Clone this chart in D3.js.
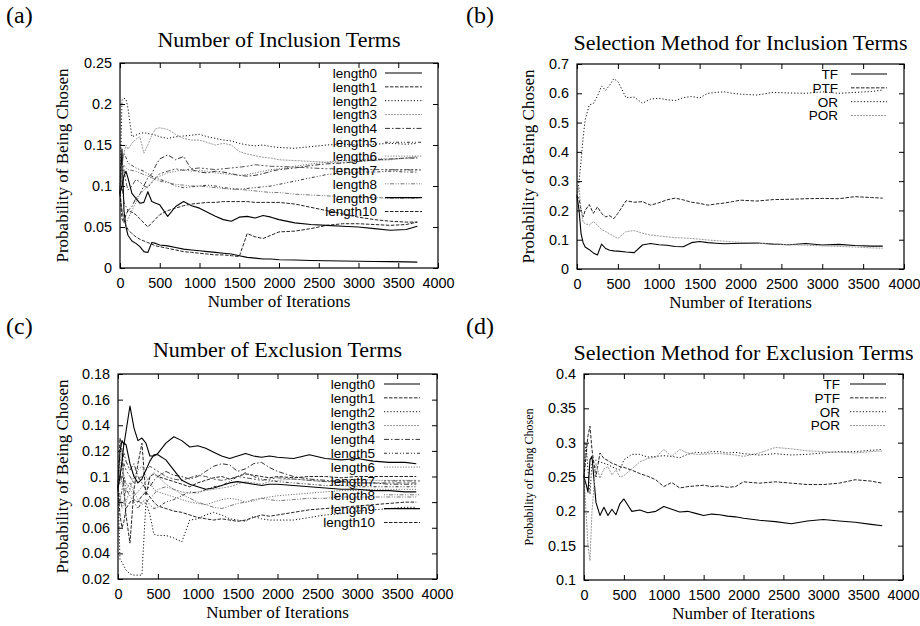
<!DOCTYPE html>
<html>
<head>
<meta charset="utf-8">
<script src="https://cdn.jsdelivr.net/npm/d3@7"></script>
<style>
  body { margin: 0; background: #fff; }
  svg { display: block; }
</style>
</head>
<body>
<svg id="chart" width="920" height="626"></svg>
<script>
// Iteration counts at which the selection probabilities were sampled
const iterations = [0,25,50,75,100,150,200,250,300,350,400,450,500,600,700,800,900,1000,1100,1200,1300,1400,1500,1600,1700,1800,1900,2000,2200,2400,2600,2800,3000,3200,3400,3600,3740];

// (a) number of inclusion terms
const inclLength0 = [0.091,0.145,0.070,0.050,0.040,0.033,0.030,0.026,0.020,0.019,0.031,0.030,0.028,0.027,0.025,0.023,0.022,0.021,0.020,0.019,0.018,0.017,0.015,0.013,0.012,0.011,0.011,0.010,0.0098,0.0092,0.0088,0.0085,0.0082,0.0080,0.0078,0.0075,0.0072];
const inclLength1 = [0.091,0.070,0.058,0.052,0.047,0.042,0.038,0.035,0.033,0.031,0.029,0.027,0.026,0.024,0.022,0.020,0.019,0.018,0.017,0.016,0.016,0.015,0.014,0.042,0.038,0.036,0.040,0.044,0.045,0.048,0.052,0.054,0.054,0.053,0.052,0.053,0.056];
const inclLength2 = [0.091,0.205,0.207,0.206,0.195,0.160,0.162,0.164,0.165,0.164,0.163,0.162,0.160,0.158,0.160,0.161,0.162,0.163,0.160,0.158,0.156,0.155,0.152,0.150,0.149,0.150,0.148,0.147,0.146,0.148,0.150,0.151,0.150,0.151,0.152,0.151,0.152];
const inclLength3 = [0.091,0.120,0.140,0.150,0.145,0.152,0.157,0.160,0.140,0.150,0.162,0.170,0.171,0.169,0.163,0.158,0.156,0.156,0.153,0.150,0.152,0.150,0.142,0.139,0.137,0.135,0.134,0.132,0.131,0.130,0.129,0.129,0.130,0.131,0.132,0.134,0.136];
const inclLength4 = [0.091,0.100,0.080,0.075,0.070,0.075,0.085,0.090,0.100,0.110,0.115,0.125,0.133,0.138,0.132,0.136,0.120,0.117,0.116,0.118,0.117,0.115,0.113,0.112,0.113,0.115,0.118,0.120,0.122,0.125,0.127,0.128,0.130,0.132,0.133,0.134,0.134];
const inclLength5 = [0.091,0.130,0.140,0.135,0.128,0.125,0.122,0.120,0.118,0.115,0.112,0.110,0.108,0.105,0.100,0.098,0.099,0.100,0.101,0.100,0.098,0.097,0.096,0.097,0.098,0.099,0.100,0.102,0.106,0.110,0.114,0.116,0.117,0.117,0.118,0.117,0.117];
const inclLength6 = [0.091,0.070,0.060,0.055,0.060,0.070,0.080,0.090,0.095,0.100,0.105,0.110,0.112,0.116,0.118,0.120,0.118,0.119,0.118,0.116,0.115,0.114,0.113,0.114,0.116,0.118,0.120,0.121,0.124,0.127,0.129,0.131,0.132,0.133,0.133,0.134,0.135];
const inclLength7 = [0.091,0.115,0.120,0.105,0.095,0.100,0.108,0.105,0.100,0.098,0.104,0.110,0.115,0.118,0.121,0.119,0.121,0.122,0.121,0.120,0.121,0.122,0.123,0.124,0.126,0.125,0.124,0.124,0.123,0.122,0.121,0.121,0.120,0.120,0.120,0.120,0.120];
const inclLength8 = [0.091,0.120,0.125,0.122,0.120,0.119,0.118,0.116,0.114,0.112,0.110,0.108,0.106,0.104,0.102,0.101,0.100,0.100,0.099,0.098,0.097,0.096,0.096,0.095,0.094,0.093,0.092,0.092,0.090,0.089,0.088,0.087,0.086,0.086,0.085,0.085,0.085];
const inclLength9 = [0.091,0.100,0.112,0.118,0.110,0.091,0.085,0.079,0.080,0.093,0.081,0.079,0.077,0.063,0.075,0.081,0.076,0.073,0.068,0.063,0.059,0.057,0.062,0.063,0.061,0.064,0.062,0.059,0.055,0.053,0.052,0.051,0.050,0.048,0.046,0.047,0.051];
const inclLength10 = [0.091,0.060,0.055,0.065,0.070,0.068,0.065,0.060,0.055,0.050,0.055,0.060,0.065,0.070,0.073,0.076,0.078,0.079,0.080,0.080,0.081,0.081,0.081,0.081,0.080,0.080,0.080,0.080,0.078,0.074,0.070,0.066,0.062,0.059,0.057,0.056,0.056];

// (b) selection method for inclusion terms
const inclTF  = [0.25,0.20,0.12,0.09,0.075,0.066,0.055,0.048,0.085,0.070,0.064,0.062,0.061,0.058,0.056,0.082,0.087,0.083,0.081,0.077,0.076,0.090,0.094,0.090,0.088,0.086,0.087,0.088,0.089,0.085,0.083,0.087,0.082,0.084,0.080,0.078,0.078];
const inclPTF = [0.25,0.24,0.20,0.178,0.20,0.22,0.19,0.212,0.19,0.178,0.182,0.172,0.19,0.233,0.228,0.23,0.218,0.226,0.236,0.242,0.236,0.228,0.224,0.218,0.222,0.225,0.23,0.235,0.232,0.237,0.238,0.24,0.241,0.24,0.247,0.244,0.242];
const inclOR  = [0.25,0.30,0.37,0.45,0.51,0.56,0.565,0.59,0.625,0.61,0.628,0.65,0.64,0.585,0.587,0.566,0.58,0.583,0.578,0.575,0.585,0.589,0.584,0.60,0.603,0.605,0.60,0.597,0.594,0.603,0.601,0.60,0.605,0.60,0.603,0.606,0.611];
const inclPOR = [0.25,0.28,0.20,0.16,0.155,0.15,0.162,0.15,0.135,0.128,0.12,0.112,0.104,0.128,0.131,0.122,0.116,0.113,0.110,0.107,0.106,0.104,0.102,0.099,0.097,0.095,0.093,0.091,0.088,0.085,0.083,0.081,0.079,0.077,0.075,0.072,0.071];

// (c) number of exclusion terms
const exclLength0 = [0.091,0.120,0.128,0.125,0.135,0.155,0.138,0.128,0.130,0.126,0.116,0.116,0.118,0.126,0.131,0.128,0.123,0.124,0.122,0.119,0.116,0.114,0.116,0.118,0.116,0.115,0.116,0.115,0.114,0.117,0.114,0.113,0.114,0.112,0.111,0.111,0.110];
const exclLength1 = [0.091,0.130,0.120,0.090,0.070,0.048,0.090,0.110,0.126,0.085,0.100,0.102,0.100,0.098,0.096,0.094,0.092,0.095,0.097,0.099,0.100,0.098,0.100,0.102,0.101,0.100,0.099,0.100,0.099,0.100,0.100,0.099,0.100,0.100,0.100,0.100,0.100];
const exclLength2 = [0.091,0.035,0.033,0.030,0.027,0.024,0.023,0.023,0.023,0.080,0.070,0.055,0.054,0.054,0.052,0.049,0.066,0.067,0.070,0.072,0.070,0.067,0.066,0.065,0.069,0.067,0.066,0.066,0.066,0.068,0.070,0.071,0.073,0.074,0.075,0.076,0.076];
const exclLength3 = [0.091,0.110,0.122,0.100,0.095,0.090,0.085,0.088,0.092,0.096,0.100,0.103,0.100,0.094,0.090,0.088,0.087,0.088,0.089,0.090,0.091,0.092,0.094,0.096,0.095,0.094,0.096,0.097,0.098,0.097,0.096,0.097,0.098,0.097,0.097,0.097,0.097];
const exclLength4 = [0.091,0.100,0.110,0.118,0.112,0.105,0.110,0.100,0.095,0.090,0.092,0.097,0.100,0.104,0.101,0.100,0.098,0.100,0.104,0.108,0.110,0.109,0.104,0.106,0.110,0.111,0.107,0.104,0.100,0.098,0.097,0.096,0.095,0.095,0.094,0.094,0.094];
const exclLength5 = [0.091,0.080,0.090,0.100,0.090,0.085,0.080,0.075,0.080,0.082,0.078,0.075,0.076,0.080,0.082,0.085,0.088,0.087,0.090,0.092,0.093,0.096,0.100,0.103,0.100,0.098,0.097,0.096,0.095,0.094,0.093,0.093,0.092,0.092,0.092,0.092,0.092];
const exclLength6 = [0.091,0.100,0.095,0.085,0.080,0.090,0.100,0.105,0.108,0.100,0.095,0.090,0.088,0.086,0.084,0.082,0.080,0.079,0.078,0.080,0.082,0.083,0.082,0.080,0.081,0.083,0.084,0.085,0.086,0.087,0.088,0.089,0.089,0.090,0.090,0.090,0.090];
const exclLength7 = [0.091,0.095,0.100,0.110,0.105,0.100,0.095,0.098,0.100,0.105,0.108,0.106,0.104,0.100,0.098,0.097,0.099,0.101,0.100,0.098,0.097,0.098,0.100,0.099,0.098,0.097,0.098,0.099,0.098,0.097,0.096,0.096,0.095,0.095,0.095,0.095,0.095];
const exclLength8 = [0.091,0.085,0.075,0.080,0.090,0.095,0.088,0.082,0.078,0.080,0.083,0.086,0.090,0.092,0.090,0.086,0.083,0.080,0.078,0.076,0.075,0.077,0.079,0.080,0.082,0.083,0.082,0.081,0.082,0.083,0.083,0.084,0.084,0.084,0.084,0.084,0.084];
const exclLength9 = [0.091,0.100,0.112,0.126,0.125,0.110,0.100,0.095,0.098,0.105,0.112,0.117,0.117,0.113,0.105,0.097,0.094,0.092,0.090,0.091,0.093,0.095,0.096,0.095,0.094,0.093,0.094,0.094,0.093,0.092,0.091,0.090,0.090,0.089,0.089,0.088,0.088];
const exclLength10 = [0.091,0.070,0.060,0.065,0.075,0.080,0.082,0.080,0.085,0.088,0.084,0.080,0.077,0.075,0.073,0.072,0.070,0.068,0.067,0.066,0.067,0.066,0.065,0.066,0.068,0.070,0.069,0.070,0.072,0.074,0.075,0.076,0.077,0.078,0.079,0.080,0.080];

// (d) selection method for exclusion terms
const exclTF  = [0.25,0.24,0.228,0.275,0.28,0.213,0.194,0.206,0.194,0.203,0.195,0.211,0.218,0.200,0.202,0.198,0.200,0.207,0.203,0.199,0.200,0.197,0.194,0.196,0.195,0.193,0.192,0.190,0.187,0.185,0.182,0.186,0.188,0.186,0.184,0.181,0.179];
const exclPTF = [0.25,0.28,0.31,0.324,0.29,0.25,0.285,0.277,0.274,0.27,0.268,0.265,0.264,0.26,0.255,0.251,0.246,0.236,0.242,0.234,0.236,0.237,0.238,0.236,0.237,0.235,0.236,0.243,0.241,0.243,0.241,0.239,0.239,0.241,0.246,0.244,0.241];
const exclOR  = [0.25,0.30,0.26,0.225,0.27,0.275,0.272,0.27,0.268,0.265,0.262,0.26,0.275,0.283,0.283,0.279,0.28,0.281,0.28,0.278,0.283,0.286,0.285,0.287,0.287,0.285,0.286,0.284,0.282,0.284,0.282,0.283,0.285,0.287,0.287,0.289,0.29];
const exclPOR = [0.25,0.20,0.15,0.128,0.20,0.27,0.248,0.262,0.265,0.253,0.26,0.25,0.252,0.262,0.272,0.277,0.279,0.29,0.28,0.29,0.285,0.283,0.283,0.284,0.284,0.283,0.282,0.28,0.285,0.293,0.291,0.288,0.287,0.286,0.285,0.287,0.288];

const lengthNames = ["length0","length1","length2","length3","length4","length5","length6","length7","length8","length9","length10"];
const methodNames = ["TF","PTF","OR","POR"];
const xTickValues = [0,500,1000,1500,2000,2500,3000,3500,4000];

// gnuplot-style line types; they repeat after the ninth
const lineTypes = [
  { dash: null,                color: "#000", width: 1.1 },
  { dash: "3.5,1.5",           color: "#222", width: 1 },
  { dash: "1.2,2",             color: "#111", width: 1 },
  { dash: "2,1",               color: "#9a9a9a", width: 1 },
  { dash: "5,2,1.5,2",         color: "#333", width: 1 },
  { dash: "3,2,1,2,1,2",       color: "#333", width: 1 },
  { dash: "1.2,1.5",           color: "#777", width: 1 },
  { dash: "2,2,2,2,5,2",       color: "#555", width: 1 },
  { dash: "1,1.5,1,1.5,4,1.5", color: "#777", width: 1 }
];

const svg = d3.select("#chart");
const serif = "'Liberation Serif', 'Times New Roman', serif";
const sans = "'Liberation Sans', Arial, Helvetica, sans-serif";

function drawPanel(cfg) {
  const x = d3.scaleLinear().domain([0, 4000]).range([cfg.left, cfg.right]);
  const y = d3.scaleLinear().domain(cfg.yDomain).range([cfg.bottom, cfg.top]);
  const g = svg.append("g");
  const fmt = d => String(+d.toFixed(2));

  // panel letter
  g.append("text").attr("x", cfg.letterX).attr("y", cfg.letterY)
    .attr("font-family", serif).attr("font-size", 24).text(cfg.letter);

  // title
  g.append("text").attr("x", (cfg.left + cfg.right) / 2).attr("y", cfg.titleY)
    .attr("text-anchor", "middle").attr("font-family", serif).attr("font-size", 22)
    .text(cfg.title);

  // axes with inward ticks on all four sides
  const styleAxis = sel => {
    sel.select(".domain").remove();
    sel.selectAll(".tick line").attr("stroke", "#000").attr("stroke-width", 1);
    sel.selectAll(".tick text").attr("font-family", sans).attr("font-size", 14.4).attr("fill", "#000");
  };
  g.append("g").attr("transform", `translate(0,${cfg.bottom})`)
    .call(d3.axisBottom(x).tickValues(xTickValues).tickSize(-5).tickPadding(10).tickFormat(fmt))
    .call(styleAxis);
  g.append("g").attr("transform", `translate(0,${cfg.top})`)
    .call(d3.axisTop(x).tickValues(xTickValues).tickSize(-5).tickFormat(""))
    .call(styleAxis);
  g.append("g").attr("transform", `translate(${cfg.left},0)`)
    .call(d3.axisLeft(y).tickValues(cfg.yTicks).tickSize(-5).tickPadding(8).tickFormat(fmt))
    .call(styleAxis);
  g.append("g").attr("transform", `translate(${cfg.right},0)`)
    .call(d3.axisRight(y).tickValues(cfg.yTicks).tickSize(-5).tickFormat(""))
    .call(styleAxis);

  // axis titles
  g.append("text").attr("x", (cfg.left + cfg.right) / 2).attr("y", cfg.bottom + 39)
    .attr("text-anchor", "middle").attr("font-family", serif).attr("font-size", 17)
    .text("Number of Iterations");
  g.append("text")
    .attr("transform", `translate(${cfg.yTitleX},${(cfg.top + cfg.bottom) / 2}) rotate(-90)`)
    .attr("text-anchor", "middle").attr("font-family", serif).attr("font-size", cfg.yTitleSize)
    .text("Probability of Being Chosen");

  // series
  const line = d3.line().x((d, i) => x(iterations[i])).y(d => y(d));
  cfg.series.forEach((values, i) => {
    const lt = lineTypes[i % lineTypes.length];
    g.append("path").datum(values)
      .attr("d", line).attr("fill", "none")
      .attr("stroke", lt.color).attr("stroke-width", lt.width)
      .attr("stroke-dasharray", lt.dash)
      .attr("stroke-linejoin", "round");
  });

  // key
  cfg.names.forEach((name, i) => {
    const lt = lineTypes[i % lineTypes.length];
    const ry = cfg.top + 10 + i * 13.85;
    g.append("text").attr("x", cfg.keyTextX).attr("y", ry).attr("dy", "0.36em")
      .attr("text-anchor", "end").attr("font-family", sans).attr("font-size", 13.5)
      .text(name);
    g.append("line").attr("x1", cfg.keyLine[0]).attr("x2", cfg.keyLine[1])
      .attr("y1", ry).attr("y2", ry)
      .attr("stroke", lt.color).attr("stroke-width", lt.width)
      .attr("stroke-dasharray", lt.dash);
  });

  // frame
  g.append("rect").attr("x", cfg.left).attr("y", cfg.top)
    .attr("width", cfg.right - cfg.left).attr("height", cfg.bottom - cfg.top)
    .attr("fill", "none").attr("stroke", "#000").attr("stroke-width", 1.2);
}

drawPanel({
  letter: "(a)", letterX: 6, letterY: 23,
  title: "Number of Inclusion Terms", titleY: 47,
  left: 120, right: 438, top: 63, bottom: 268,
  yDomain: [0, 0.25], yTicks: [0, 0.05, 0.1, 0.15, 0.2, 0.25],
  yTitleX: 68, yTitleSize: 17,
  series: [inclLength0, inclLength1, inclLength2, inclLength3, inclLength4, inclLength5,
           inclLength6, inclLength7, inclLength8, inclLength9, inclLength10],
  names: lengthNames, keyTextX: 377, keyLine: [385, 422]
});

drawPanel({
  letter: "(b)", letterX: 466, letterY: 23,
  title: "Selection Method for Inclusion Terms", titleY: 50,
  left: 577, right: 904, top: 64, bottom: 269,
  yDomain: [0, 0.7], yTicks: [0, 0.1, 0.2, 0.3, 0.4, 0.5, 0.6, 0.7],
  yTitleX: 534, yTitleSize: 17,
  series: [inclTF, inclPTF, inclOR, inclPOR],
  names: methodNames, keyTextX: 838, keyLine: [851, 887]
});

drawPanel({
  letter: "(c)", letterX: 6, letterY: 334,
  title: "Number of Exclusion Terms", titleY: 357,
  left: 118, right: 437, top: 374, bottom: 579,
  yDomain: [0.02, 0.18], yTicks: [0.02, 0.04, 0.06, 0.08, 0.1, 0.12, 0.14, 0.16, 0.18],
  yTitleX: 68, yTitleSize: 17,
  series: [exclLength0, exclLength1, exclLength2, exclLength3, exclLength4, exclLength5,
           exclLength6, exclLength7, exclLength8, exclLength9, exclLength10],
  names: lengthNames, keyTextX: 375, keyLine: [384, 420]
});

drawPanel({
  letter: "(d)", letterX: 466, letterY: 334,
  title: "Selection Method for Exclusion Terms", titleY: 360,
  left: 584, right: 903, top: 374, bottom: 580,
  yDomain: [0.1, 0.4], yTicks: [0.1, 0.15, 0.2, 0.25, 0.3, 0.35, 0.4],
  yTitleX: 533, yTitleSize: 12,
  series: [exclTF, exclPTF, exclOR, exclPOR],
  names: methodNames, keyTextX: 840, keyLine: [850, 886]
});
</script>
</body>
</html>
